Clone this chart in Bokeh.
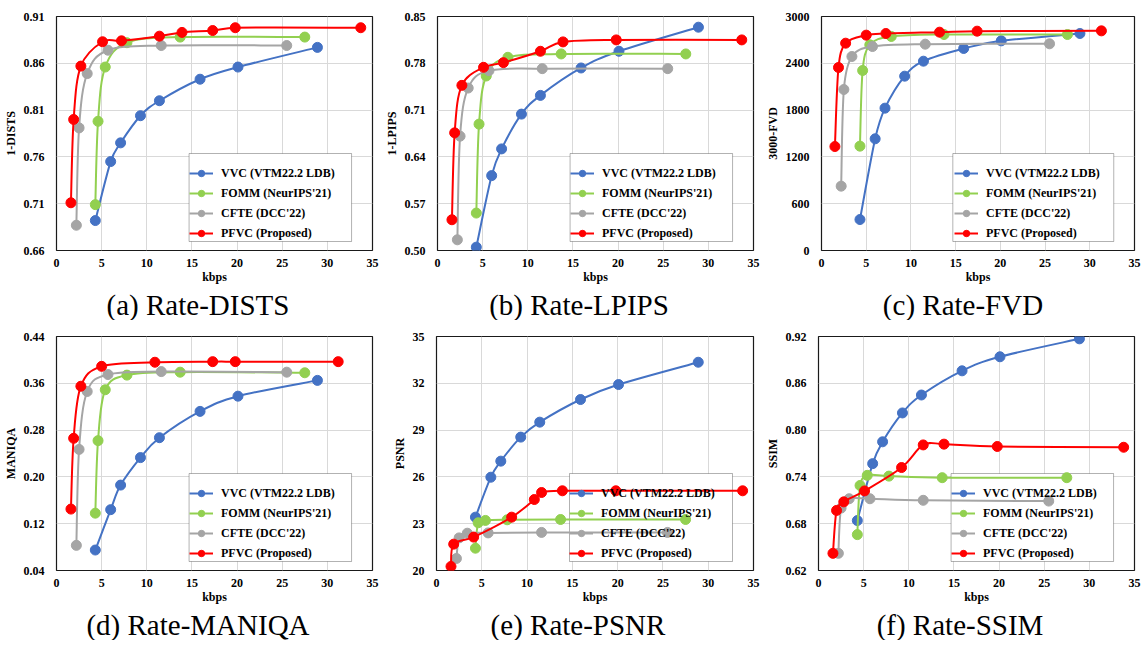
import numpy as np
from bokeh.plotting import figure
from bokeh.models import (Range1d, FixedTicker, NumeralTickFormatter, Legend, LegendItem, Title,
                          BoxAnnotation)
from bokeh.layouts import row, column
from bokeh.embed import file_html
from bokeh.resources import INLINE

# ---------------- data ----------------
series_names = ["VVC (VTM22.2 LDB)", "FOMM (NeurIPS'21)", "CFTE (DCC'22)", "PFVC (Proposed)"]
series_colors = ["#4472C4", "#92D050", "#A5A5A5", "#FF0000"]

kbps_ticks = [0, 5, 10, 15, 20, 25, 30, 35]

kbps_vvc = [4.3, 6.0, 7.1, 9.3, 11.4, 15.9, 20.1, 28.9]
kbps_fomm = [4.3, 4.6, 5.4, 7.8, 13.7, 27.5]
kbps_cfte = [2.2, 2.5, 3.4, 5.7, 11.6, 25.5]

# (a) 1-DISTS
dists_ticks = [0.66, 0.71, 0.76, 0.81, 0.86, 0.91]
dists_vvc = [0.692, 0.755, 0.775, 0.804, 0.820, 0.843, 0.856, 0.877]
dists_fomm = [0.709, 0.798, 0.856, 0.882, 0.888, 0.888]
dists_cfte = [0.687, 0.791, 0.849, 0.874, 0.879, 0.879]
dists_pfvc_kbps = [1.6, 1.9, 2.7, 5.1, 7.2, 11.4, 13.9, 17.3, 19.8, 33.7]
dists_pfvc = [0.711, 0.800, 0.857, 0.883, 0.884, 0.889, 0.893, 0.895, 0.898, 0.898]

# (b) 1-LPIPS
lpips_ticks = [0.50, 0.57, 0.64, 0.71, 0.78, 0.85]
lpips_vvc = [0.505, 0.612, 0.652, 0.704, 0.732, 0.773, 0.798, 0.834]
lpips_fomm = [0.556, 0.689, 0.761, 0.789, 0.794, 0.794]
lpips_cfte = [0.516, 0.671, 0.743, 0.769, 0.772, 0.772]
lpips_pfvc_kbps = [1.6, 1.9, 2.7, 5.1, 7.3, 11.4, 13.9, 19.8, 33.7]
lpips_pfvc = [0.546, 0.676, 0.747, 0.774, 0.781, 0.798, 0.812, 0.815, 0.815]

# (c) 3000-FVD
fvd_ticks = [0, 600, 1200, 1800, 2400, 3000]
fvd_vvc = [397, 1432, 1825, 2235, 2427, 2590, 2688, 2782]
fvd_fomm = [1338, 2308, 2637, 2744, 2769, 2769]
fvd_cfte = [825, 2064, 2487, 2615, 2645, 2650]
fvd_pfvc_kbps = [1.5, 1.9, 2.7, 5.0, 7.2, 13.2, 17.4, 31.3]
fvd_pfvc = [1333, 2346, 2658, 2761, 2782, 2799, 2812, 2816]

# (d) MANIQA
maniqa_ticks = [0.04, 0.12, 0.20, 0.28, 0.36, 0.44]
maniqa_vvc = [0.075, 0.144, 0.186, 0.233, 0.267, 0.312, 0.338, 0.365]
maniqa_fomm = [0.138, 0.262, 0.349, 0.374, 0.379, 0.378]
maniqa_cfte = [0.083, 0.247, 0.346, 0.375, 0.380, 0.379]
maniqa_pfvc_kbps = [1.6, 1.9, 2.7, 5.0, 10.9, 17.3, 19.8, 31.2]
maniqa_pfvc = [0.145, 0.266, 0.355, 0.389, 0.396, 0.397, 0.397, 0.397]

# (e) PSNR
psnr_ticks = [20, 23, 26, 29, 32, 35]
psnr_vvc = [23.42, 25.98, 27.01, 28.55, 29.51, 30.96, 31.92, 33.35]
psnr_fomm = [21.43, 23.06, 23.21, 23.25, 23.27, 23.27]
psnr_cfte = [20.77, 22.09, 22.39, 22.41, 22.44, 22.44]
psnr_pfvc_kbps = [1.6, 1.9, 4.1, 8.3, 10.8, 11.6, 13.9, 19.8, 33.8]
psnr_pfvc = [20.26, 21.69, 22.14, 23.42, 24.55, 25.00, 25.11, 25.11, 25.11]

# (f) SSIM
ssim_ticks = [0.62, 0.68, 0.74, 0.80, 0.86, 0.92]
ssim_vvc = [0.684, 0.757, 0.785, 0.822, 0.845, 0.876, 0.894, 0.917]
ssim_fomm = [0.666, 0.729, 0.742, 0.741, 0.739, 0.739]
ssim_cfte = [0.642, 0.700, 0.712, 0.712, 0.710, 0.709]
ssim_pfvc_kbps = [1.6, 2.0, 2.8, 5.1, 9.2, 11.6, 13.9, 19.8, 33.8]
ssim_pfvc = [0.642, 0.697, 0.708, 0.722, 0.752, 0.781, 0.782, 0.779, 0.778]

# ---------------- styling ----------------
SERIF = "Liberation Serif"
FIG_W = 381
FIG_H = 320
BORDER_L = 55
BORDER_T = 16
BORDER_B = 70
FRAME_W = 317
FRAME_H = FIG_H - BORDER_T - BORDER_B

# legend geometry (pixels)
LEG_PAD, LEG_SPACING, LEG_ROW = 6, 4, 16
LEG_GLYPH_W, LEG_STANDOFF, LEG_LABEL_W = 24, 8, 119
LEG_W = 2 * LEG_PAD + LEG_GLYPH_W + LEG_STANDOFF + LEG_LABEL_W
LEG_H = 2 * LEG_PAD + 4 * LEG_ROW + 3 * LEG_SPACING
LEG_X, LEG_Y = 133, 9

# Times / Liberation Serif advance widths (1/1000 em), used to place captions
CHAR_W = {"(": 333, ")": 333, " ": 250, "-": 333, "a": 444, "b": 500, "c": 444, "d": 500,
          "e": 444, "f": 333, "t": 278, "R": 667, "D": 722, "I": 333, "S": 556, "T": 611,
          "L": 611, "P": 556, "F": 556, "V": 722, "M": 889, "A": 722, "N": 722, "Q": 722}
CAP_SIZE = 29


def smooth_beziers(xs, ys, sx, sy):
    """Excel-like smoothed line: cubic Bezier control points per segment."""
    P = np.column_stack([np.asarray(xs, float) * sx, np.asarray(ys, float) * sy])
    n = len(P)
    out = {k: [] for k in ("x0", "y0", "x1", "y1", "cx0", "cy0", "cx1", "cy1")}
    for i in range(n - 1):
        p0 = P[max(i - 1, 0)]
        p1 = P[i]
        p2 = P[i + 1]
        p3 = P[min(i + 2, n - 1)]
        d12 = np.hypot(*(p2 - p1))
        d02 = np.hypot(*(p2 - p0))
        d13 = np.hypot(*(p3 - p1))
        f1 = 1 / 6
        f2 = 1 / 6
        if d02 > 0 and d02 / 6 > d12 / 2:
            f1 = d12 / d02 / 2
        if d13 > 0 and d13 / 6 > d12 / 2:
            f2 = d12 / d13 / 2
        c1 = p1 + f1 * (p2 - p0)
        c2 = p2 - f2 * (p3 - p1)
        out["x0"].append(p1[0] / sx); out["y0"].append(p1[1] / sy)
        out["x1"].append(p2[0] / sx); out["y1"].append(p2[1] / sy)
        out["cx0"].append(c1[0] / sx); out["cy0"].append(c1[1] / sy)
        out["cx1"].append(c2[0] / sx); out["cy1"].append(c2[1] / sy)
    return out


def make_panel(caption, ylabel, yticks, yfmt, series, mbr):
    y0, y1 = yticks[0], yticks[-1]
    p = figure(width=FIG_W, height=FIG_H, x_range=Range1d(0, 35), y_range=Range1d(y0, y1),
               output_backend="svg", toolbar_location=None,
               min_border_left=BORDER_L, min_border_right=mbr, min_border_top=BORDER_T,
               min_border_bottom=BORDER_B,
               background_fill_color="white", border_fill_color="white")
    p.outline_line_color = "#1a1a1a"
    p.outline_line_width = 1.2
    p.xgrid.ticker = FixedTicker(ticks=kbps_ticks)
    p.ygrid.ticker = FixedTicker(ticks=yticks)
    p.grid.grid_line_color = "#D9D9D9"
    p.grid.grid_line_width = 1
    p.xaxis.ticker = FixedTicker(ticks=kbps_ticks)
    p.yaxis.ticker = FixedTicker(ticks=yticks)
    p.yaxis.formatter = NumeralTickFormatter(format=yfmt)
    p.xaxis.axis_label = "kbps"
    p.yaxis.axis_label = ylabel
    for ax in (p.xaxis[0], p.yaxis[0]):
        ax.axis_line_color = None
        ax.major_tick_line_color = None
        ax.minor_tick_line_color = None
        ax.major_tick_out = 0
        ax.major_tick_in = 0
        ax.minor_tick_out = 0
        ax.minor_tick_in = 0
        ax.major_label_text_font = SERIF
        ax.major_label_text_font_style = "bold"
        ax.major_label_text_font_size = "12px"
        ax.major_label_text_color = "black"
        ax.axis_label_text_font = SERIF
        ax.axis_label_text_font_style = "bold"
        ax.axis_label_text_font_size = "12px"
        ax.axis_label_text_color = "black"
    p.xaxis.major_label_standoff = 8
    p.xaxis.axis_label_standoff = 0
    p.yaxis.major_label_standoff = 12
    p.yaxis.axis_label_standoff = 3

    sx = FRAME_W / 35.0
    sy = FRAME_H / float(y1 - y0)

    # legend box drawn beneath the curves (as in the reference)
    p.add_layout(BoxAnnotation(left=LEG_X / sx, right=(LEG_X + LEG_W) / sx,
                               bottom=y0 + LEG_Y / sy, top=y0 + (LEG_Y + LEG_H) / sy,
                               fill_color="white", fill_alpha=1.0,
                               line_color="black", line_width=1, level="underlay"))

    items = []
    for name, color, (xs, ys) in zip(series_names, series_colors, series):
        bz = smooth_beziers(xs, ys, sx, sy)
        r_line = p.bezier(x0="x0", y0="y0", x1="x1", y1="y1", cx0="cx0", cy0="cy0",
                          cx1="cx1", cy1="cy1", source=bz, line_color=color, line_width=2)
        r_pts = p.scatter(x=xs, y=ys, size=10, marker="circle", fill_color=color, line_color=color)
        items.append(LegendItem(label=name, renderers=[r_line, r_pts]))

    legend = Legend(items=items, location=(LEG_X, LEG_Y), margin=0, padding=LEG_PAD,
                    spacing=LEG_SPACING, glyph_width=LEG_GLYPH_W, glyph_height=LEG_ROW,
                    label_height=LEG_ROW, label_width=LEG_LABEL_W, label_standoff=LEG_STANDOFF,
                    border_line_color=None, background_fill_alpha=0.0,
                    label_text_font=SERIF, label_text_font_style="bold",
                    label_text_font_size="12px", label_text_color="black")
    p.add_layout(legend, "center")

    text_w = sum(CHAR_W.get(ch, 500) for ch in caption) / 1000.0 * CAP_SIZE
    offset = (FRAME_W - text_w) / 2.0 - 17
    p.add_layout(Title(text=caption, align="left", offset=offset, standoff=0,
                       text_font=SERIF, text_font_style="normal",
                       text_font_size=f"{CAP_SIZE}px", text_color="black"), "below")
    return p


pa = make_panel("(a) Rate-DISTS", "1-DISTS", dists_ticks, "0.00",
                [(kbps_vvc, dists_vvc), (kbps_fomm, dists_fomm), (kbps_cfte, dists_cfte),
                 (dists_pfvc_kbps, dists_pfvc)], 9)
pb = make_panel("(b) Rate-LPIPS", "1-LPIPS", lpips_ticks, "0.00",
                [(kbps_vvc, lpips_vvc), (kbps_fomm, lpips_fomm), (kbps_cfte, lpips_cfte),
                 (lpips_pfvc_kbps, lpips_pfvc)], 9)
pc = make_panel("(c) Rate-FVD", "3000-FVD", fvd_ticks, "0",
                [(kbps_vvc, fvd_vvc), (kbps_fomm, fvd_fomm), (kbps_cfte, fvd_cfte),
                 (fvd_pfvc_kbps, fvd_pfvc)], 9)
pd = make_panel("(d) Rate-MANIQA", "MANIQA", maniqa_ticks, "0.00",
                [(kbps_vvc, maniqa_vvc), (kbps_fomm, maniqa_fomm), (kbps_cfte, maniqa_cfte),
                 (maniqa_pfvc_kbps, maniqa_pfvc)], 9)
pe = make_panel("(e) Rate-PSNR", "PSNR", psnr_ticks, "0",
                [(kbps_vvc, psnr_vvc), (kbps_fomm, psnr_fomm), (kbps_cfte, psnr_cfte),
                 (psnr_pfvc_kbps, psnr_pfvc)], 9)
pf = make_panel("(f) Rate-SSIM", "SSIM", ssim_ticks, "0.00",
                [(kbps_vvc, ssim_vvc), (kbps_fomm, ssim_fomm), (kbps_cfte, ssim_cfte),
                 (ssim_pfvc_kbps, ssim_pfvc)], 9)

layout = column(row(pa, pb, pc), row(pd, pe, pf))
open("out.html", "w").write(file_html(layout, INLINE))
